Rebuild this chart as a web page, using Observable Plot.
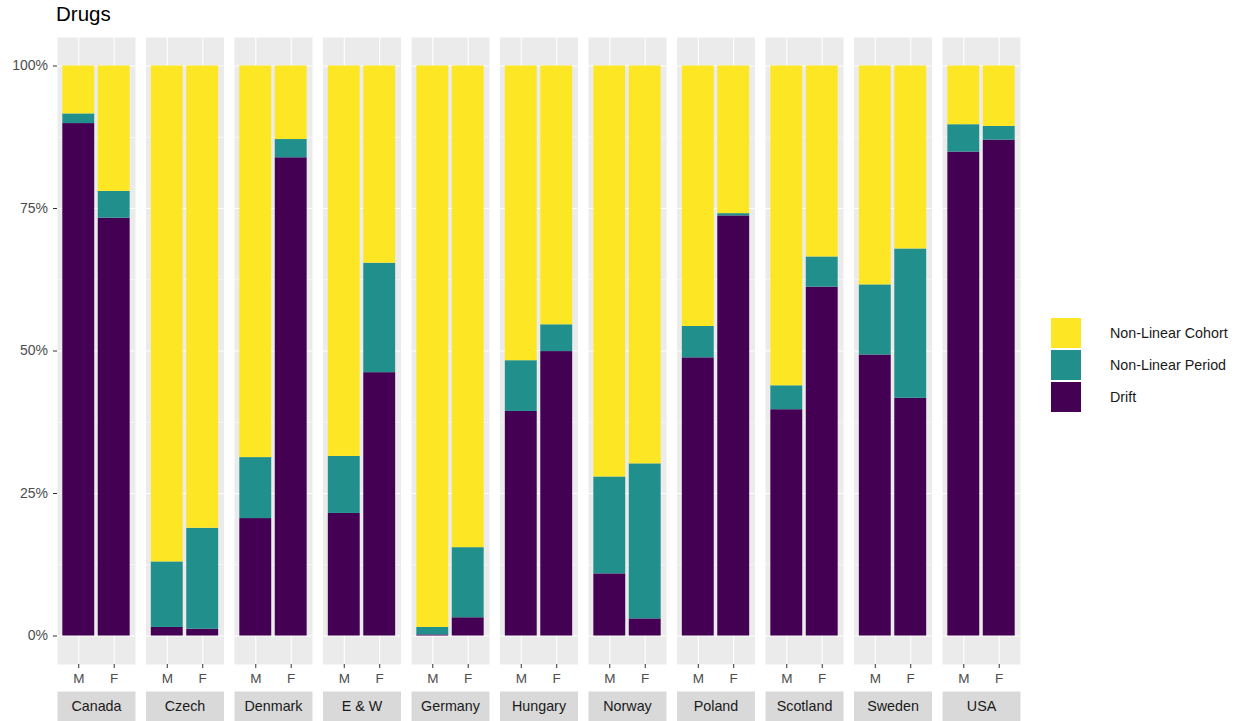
<!DOCTYPE html>
<html>
<head>
<meta charset="utf-8">
<script src="https://cdn.jsdelivr.net/npm/d3@7"></script>
<script src="https://cdn.jsdelivr.net/npm/@observablehq/plot@0.6"></script>
<style>
  body { margin: 0; background: #fff; font-family: "Liberation Sans", Arial, sans-serif; }
  #chart { position: relative; width: 1242px; height: 721px; }
  #chart svg { position: absolute; left: 0; top: 0; }
  #title { position: absolute; left: 56px; top: 2px; font-size: 20.5px; line-height: 23px; color: #000; }
  #legend { position: absolute; left: 1051px; top: 317px; }
  .key { display: flex; align-items: center; height: 32px; }
  .sw { width: 30px; height: 30px; margin-right: 29px; }
  .lab { font-size: 14.3px; color: #1a1a1a; }
</style>
</head>
<body>
<div id="chart">
  <div id="title">Drugs</div>
  <div id="legend"></div>
</div>
<script>
// Facets (countries) and bars within each facet (sex)
const countries = ["Canada", "Czech", "Denmark", "E & W", "Germany", "Hungary", "Norway", "Poland", "Scotland", "Sweden", "USA"];
const sexes = ["M", "F"];

// Stack components, bottom to top, with their viridis colours
const components = ["Drift", "Non-Linear Period", "Non-Linear Cohort"];
const componentColors = ["#440154", "#21908C", "#FDE725"];

// Share of each component (%), one value per country, in the order above
const driftM  = [89.9,  1.5, 20.6, 21.5,  0.2, 39.4, 10.9, 48.8, 39.7, 49.3, 84.9];
const periodM = [ 1.7, 11.5, 10.7, 10.0,  1.3,  8.9, 17.0,  5.5,  4.2, 12.3,  4.8];
const cohortM = [ 8.4, 87.0, 68.7, 68.5, 98.5, 51.7, 72.1, 45.7, 56.1, 38.4, 10.3];
const driftF  = [73.3,  1.2, 83.9, 46.2,  3.2, 49.9,  3.0, 73.7, 61.2, 41.7, 87.0];
const periodF = [ 4.7, 17.7,  3.2, 19.2, 12.3,  4.7, 27.2,  0.4,  5.3, 26.2,  2.4];
const cohortF = [22.0, 81.1, 12.9, 34.6, 84.5, 45.4, 69.8, 25.9, 33.5, 32.1, 10.6];

// Axis breaks
const yMajor = [0, 0.25, 0.5, 0.75, 1];
const yMinor = [0.125, 0.375, 0.625, 0.875];

// Long table: one row per country × sex × component
const series = {
  M: {"Drift": driftM, "Non-Linear Period": periodM, "Non-Linear Cohort": cohortM},
  F: {"Drift": driftF, "Non-Linear Period": periodF, "Non-Linear Cohort": cohortF}
};
const rows = [];
for (const component of components) {
  for (const sex of sexes) {
    countries.forEach((country, i) => {
      rows.push({country, sex, component, share: series[sex][component][i] / 100});
    });
  }
}

const font = '"Liberation Sans", Arial, sans-serif';

const chart = Plot.plot({
  width: 1030,
  height: 721,
  marginTop: 37,
  marginBottom: 57,
  marginLeft: 57,
  marginRight: 10,
  style: {fontFamily: font, fontSize: "13px", background: "transparent", overflow: "visible"},
  fx: {domain: countries, paddingInner: 0.119, paddingOuter: 0, round: false, axis: null, label: null},
  x: {domain: sexes, paddingInner: 0.1, paddingOuter: 0.15, align: 0.5, round: false, label: null},
  y: {domain: [-0.05, 1.05], label: null},
  color: {domain: components, range: componentColors},
  marks: [
    // panel background and grid
    Plot.frame({fill: "#EBEBEB", stroke: null}),
    Plot.gridY(yMinor, {stroke: "white", strokeOpacity: 1, strokeWidth: 0.55}),
    Plot.gridY(yMajor, {stroke: "white", strokeOpacity: 1, strokeWidth: 1.1}),
    Plot.gridX(sexes, {stroke: "white", strokeOpacity: 1, strokeWidth: 1.1}),
    // stacked shares
    Plot.barY(rows, {fx: "country", x: "sex", y: "share", fill: "component", inset: 0}),
    // axes
    Plot.axisY(yMajor, {
      tickFormat: d3.format(".0%"), tickSize: 4, tickPadding: 5.5,
      stroke: "#333333", fill: "#4D4D4D", fontSize: 14, label: null
    }),
    Plot.axisX({
      anchor: "bottom", tickSize: 4, tickPadding: 5,
      stroke: "#333333", fill: "#4D4D4D", fontSize: 13.5, label: null
    }),
    // facet strips below each panel
    Plot.frame({fill: "#D9D9D9", stroke: null, insetTop: 654, insetBottom: -57}),
    Plot.text(countries, {
      fx: d => d, text: d => d, frameAnchor: "bottom", lineAnchor: "middle",
      dy: 42, fontSize: 14.3, fill: "#1A1A1A"
    })
  ]
});
document.getElementById("chart").appendChild(chart);

// Legend: top to bottom matches the stacking from top to bottom
const legend = document.getElementById("legend");
components.slice().reverse().forEach(name => {
  const key = document.createElement("div");
  key.className = "key";
  const sw = document.createElement("div");
  sw.className = "sw";
  sw.style.background = componentColors[components.indexOf(name)];
  const lab = document.createElement("span");
  lab.className = "lab";
  lab.textContent = name;
  key.append(sw, lab);
  legend.append(key);
});
</script>
</body>
</html>
